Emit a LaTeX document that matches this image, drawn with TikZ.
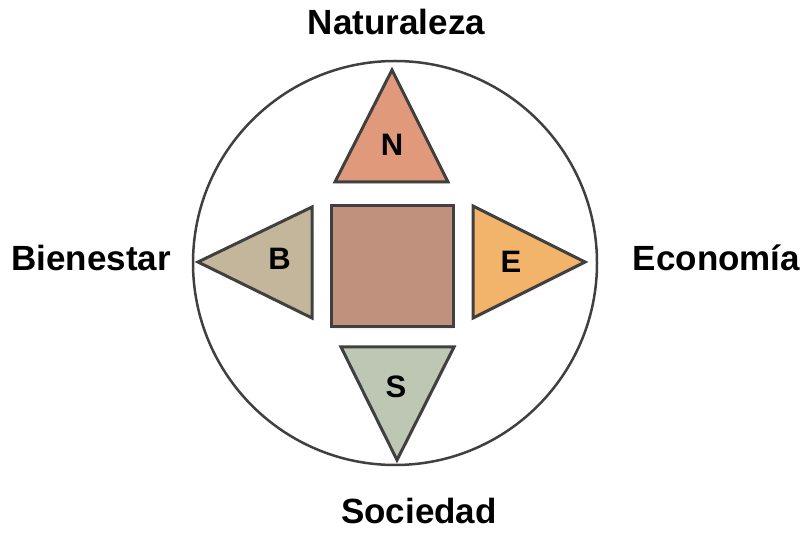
\documentclass[tikz,border=0pt]{standalone}
\usepackage{fontspec}
\setmainfont{Liberation Sans}
\usetikzlibrary{shadows}
\definecolor{natcol}{RGB}{224,153,122}
\definecolor{biencol}{RGB}{196,182,154}
\definecolor{ecocol}{RGB}{242,180,106}
\definecolor{soccol}{RGB}{190,198,180}
\definecolor{centcol}{RGB}{192,146,125}
\definecolor{edgecol}{RGB}{64,64,64}
\tikzset{
  piece/.style={draw=edgecol,line width=3pt,line join=miter,
    drop shadow={opacity=0.35,fill=red!25,shadow xshift=1pt,shadow yshift=-2pt}},
  axis label/.style={anchor=base,font=\bfseries\fontsize{35}{38}\selectfont},
  letter/.style={anchor=base,font=\bfseries\fontsize{31}{34}\selectfont},
}
\begin{document}
\begin{tikzpicture}[x=1pt,y=-1pt]
\useasboundingbox (0,0) rectangle (803,534);

\draw[color=edgecol,line width=2.5pt] (395,263) circle (202);

\draw[piece,fill=natcol] (335,182)--(392,70)--(448,182)--cycle;
\draw[piece,fill=biencol] (312,207)--(198,262)--(312,318)--cycle;
\draw[piece,fill=ecocol] (473,206)--(585,262)--(473,318)--cycle;
\draw[piece,fill=soccol] (341,347)--(454,347)--(397,460)--cycle;
\draw[piece,fill=centcol] (331,206) rectangle (453,327);

\node[letter] (n) at (392,156) {N};
\node[letter] (b) at (279.5,270) {B};
\node[letter] (e) at (511,273) {E};
\node[letter] (s) at (396,398) {S};

\node[axis label] (naturaleza) at (396.5,35) {Naturaleza};
\node[axis label] (bienestar) at (91,271) {Bienestar};
\node[axis label] (economia) at (716.5,271) {Economía};
\node[axis label] (sociedad) at (419,523) {Sociedad};
\end{tikzpicture}
\end{document}
